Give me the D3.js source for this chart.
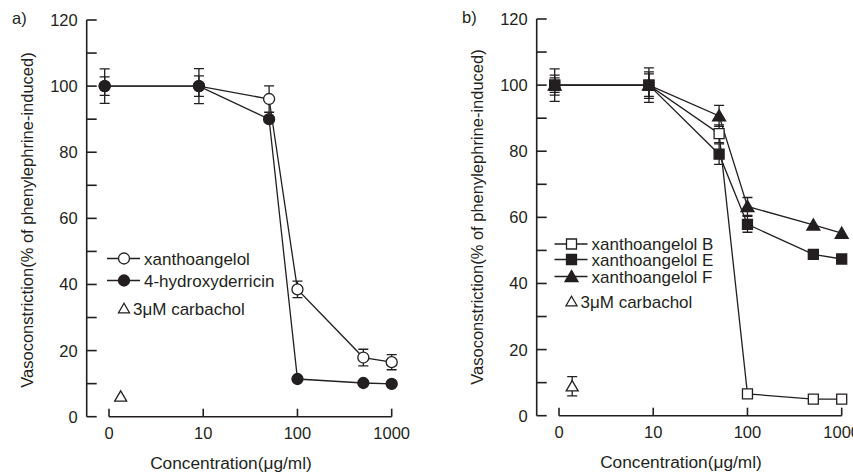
<!DOCTYPE html>
<html lang="en">
<head>
<meta charset="UTF-8">
<title>Vasoconstriction - xanthoangelols</title>
<script src="https://d3js.org/d3.v7.min.js"></script>
<style>
    body { margin: 0; background: #fff; }
    svg text { font-family: "Liberation Sans", Arial, sans-serif; fill: #231f20; }
</style>
</head>
<body>
<svg id="chart" width="853" height="476"></svg>
<script>
// dose positions as drawn (the control sits at the "0" tick)
const doses = [0.9, 9, 50, 100, 500, 1000];
const xTickValues = [1, 10, 100, 1000];
const xTickLabels = ["0", "10", "100", "1000"];
const yTickValues = [0, 20, 40, 60, 80, 100, 120];
const yMinorTicks = [10, 30, 50, 70, 90, 110];

// panel a
const xanthoangelol = [100, 100, 96.1, 38.5, 17.9, 16.5];
const xanthoangelolErr = [5.2, 5.3, 4, 2.5, 2.5, 2.3];
const hydroxyderricin = [100, 100, 90, 11.4, 10.2, 9.9];
const hydroxyderricinErr = [2.8, 3.1, 0, 0, 0, 0];
const carbacholA = { dose: 1.33, value: 6.1, err: 0 };

// panel b
const xanthoangelolB = [100, 100, 85.3, 6.6, 5.0, 5.0];
const xanthoangelolBErr = [2.2, 3.4, 2.7, 0, 0, 0];
const xanthoangelolE = [100, 100, 79.1, 57.9, 48.8, 47.4];
const xanthoangelolEErr = [4.9, 5.2, 3.1, 2.4, 0, 0];
const xanthoangelolF = [100, 100, 90.7, 63.3, 57.7, 55.2];
const xanthoangelolFErr = [3, 4, 3.2, 2.7, 0, 0];
const carbacholB = { dose: 1.38, value: 8.9, err: 2.9 };

const ink = "#231f20";
const svg = d3.select("#chart");

function markerPath(shape, size) {
    const h = size / 2;
    if (shape === "square") return `M${-h},${-h}H${h}V${h}H${-h}Z`;
    if (shape === "triangle") {
        const th = size * 0.78;
        return `M0,${-th / 2 - 1}L${h},${th / 2}L${-h},${th / 2}Z`;
    }
    return d3.arc()({ innerRadius: 0, outerRadius: h, startAngle: 0, endAngle: 2 * Math.PI });
}

function drawMarker(g, shape, filled, x, y, size) {
    g.append("path")
        .attr("d", markerPath(shape, size))
        .attr("transform", `translate(${x},${y})`)
        .attr("fill", filled ? ink : "#fff")
        .attr("stroke", ink)
        .attr("stroke-width", 1.3);
}

function errPath(cx, y1, y2) {
    return `M${cx},${y1}V${y2}M${cx - 5},${y1}H${cx + 5}M${cx - 5},${y2}H${cx + 5}`;
}

function drawPanel(opt) {
    const g = svg.append("g").attr("transform", `translate(${opt.dx},${opt.dy})`);
    const x = d3.scaleLog().domain([1, 1000]).range([109, 391.7]);
    const y = d3.scaleLinear().domain([0, 120]).range([416.7, 20]);
    const axisX = 86.7;

    // y axis with inward ticks
    g.append("line").attr("x1", axisX).attr("x2", axisX).attr("y1", y(120)).attr("y2", y(0))
        .attr("stroke", ink).attr("stroke-width", 1.6);
    g.selectAll(".ytick").data(yTickValues.concat(yMinorTicks)).join("line")
        .attr("x1", axisX).attr("x2", axisX + 10)
        .attr("y1", d => y(d)).attr("y2", d => y(d))
        .attr("stroke", ink).attr("stroke-width", 1.6);
    g.selectAll(".ylab").data(yTickValues).join("text")
        .attr("x", axisX - 9).attr("y", d => y(d) + 6)
        .attr("text-anchor", "end").attr("font-size", 16.5)
        .text(d => d);

    // detached x axis
    const xAxisY = y(0);
    g.append("line").attr("x1", x(1)).attr("x2", x(1000)).attr("y1", xAxisY).attr("y2", xAxisY)
        .attr("stroke", ink).attr("stroke-width", 1.6);
    g.selectAll(".xtick").data(xTickValues).join("line")
        .attr("x1", d => x(d)).attr("x2", d => x(d))
        .attr("y1", xAxisY).attr("y2", xAxisY - 8)
        .attr("stroke", ink).attr("stroke-width", 1.6);
    g.selectAll(".xlab").data(xTickValues).join("text")
        .attr("x", d => x(d)).attr("y", xAxisY + 22)
        .attr("text-anchor", "middle").attr("font-size", 16.5)
        .text((d, i) => xTickLabels[i]);

    g.append("text")
        .attr("transform", `translate(33,${opt.titleY}) rotate(-90)`)
        .attr("text-anchor", "middle").attr("font-size", 16.5)
        .text("Vasoconstriction(% of phenylephrine-induced)");
    g.append("text")
        .attr("x", 231).attr("y", 469)
        .attr("text-anchor", "middle").attr("font-size", 17.3)
        .text("Concentration(\u03bcg/ml)");
    g.append("text")
        .attr("x", opt.labelX).attr("y", 24)
        .attr("font-size", 16.5)
        .text(opt.label);

    // series: error bars, line, markers
    opt.series.forEach(s => {
        doses.forEach((d, i) => {
            const e = s.err[i];
            if (!e) return;
            g.append("path")
                .attr("d", errPath(x(d), y(s.values[i] + e), y(s.values[i] - e)))
                .attr("fill", "none").attr("stroke", ink).attr("stroke-width", 1.3);
        });
    });
    opt.series.forEach(s => {
        g.append("path")
            .datum(doses.map((d, i) => [x(d), y(s.values[i])]))
            .attr("d", d3.line())
            .attr("fill", "none").attr("stroke", ink).attr("stroke-width", 1.3);
    });
    opt.series.forEach(s => {
        doses.forEach((d, i) => drawMarker(g, s.shape, s.filled, x(d), y(s.values[i]), s.size));
    });

    // carbachol control
    const c = opt.carbachol;
    if (c.err) {
        g.append("path")
            .attr("d", errPath(x(c.dose), y(c.value + c.err), y(c.value - c.err)))
            .attr("fill", "none").attr("stroke", ink).attr("stroke-width", 1.3);
    }
    drawMarker(g, "triangle", false, x(c.dose), y(c.value), 12);

    // legend
    opt.legendOrder.forEach((k, i) => {
        const s = opt.series[k];
        const ly = opt.legendY[i];
        g.append("line").attr("x1", opt.legendX - 17).attr("x2", opt.legendX + 16)
            .attr("y1", ly).attr("y2", ly).attr("stroke", ink).attr("stroke-width", 1.3);
        drawMarker(g, s.shape, s.filled, opt.legendX, ly, s.size);
        g.append("text").attr("x", opt.legendX + 20).attr("y", ly + 6)
            .attr("font-size", 17).text(s.name);
    });
    const cy = opt.legendY[opt.series.length];
    drawMarker(g, "triangle", false, opt.legendX, cy, 11);
    g.append("text").attr("x", opt.legendX + 9).attr("y", cy + 6)
        .attr("font-size", 17).text("3\u03bcM carbachol");
}

drawPanel({
    dx: 0, dy: 0, label: "a)", labelX: 12, titleY: 220,
    legendX: 124, legendY: [258.5, 280.5, 308.5],
    carbachol: carbacholA,
    legendOrder: [0, 1],
    series: [
        { name: "xanthoangelol", values: xanthoangelol, err: xanthoangelolErr, shape: "circle", filled: false, size: 11 },
        { name: "4-hydroxyderricin", values: hydroxyderricin, err: hydroxyderricinErr, shape: "circle", filled: true, size: 11 }
    ]
});

drawPanel({
    dx: 450, dy: -1, label: "b)", labelX: 12, titleY: 218,
    legendX: 121.5, legendY: [245, 260.5, 277.5, 302.5],
    carbachol: carbacholB,
    legendOrder: [0, 2, 1],
    series: [
        { name: "xanthoangelol B", values: xanthoangelolB, err: xanthoangelolBErr, shape: "square", filled: false, size: 10 },
        { name: "xanthoangelol F", values: xanthoangelolF, err: xanthoangelolFErr, shape: "triangle", filled: true, size: 13 },
        { name: "xanthoangelol E", values: xanthoangelolE, err: xanthoangelolEErr, shape: "square", filled: true, size: 10 }
    ]
});
</script>
</body>
</html>
